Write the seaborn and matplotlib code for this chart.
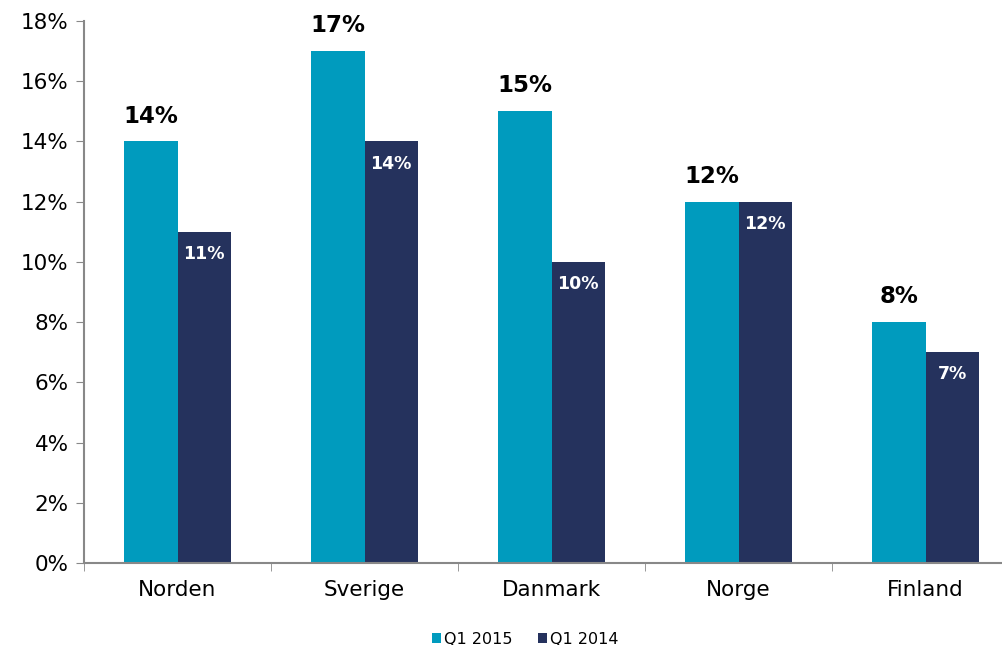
import pandas as pd
import matplotlib
matplotlib.use("Agg")
import matplotlib.pyplot as plt
from matplotlib.ticker import FuncFormatter, FixedLocator
import seaborn as sns

# dati
paesi = ["Norden", "Sverige", "Danmark", "Norge", "Finland"]
q1_2015 = [14, 17, 15, 12, 8]
q1_2014 = [11, 14, 10, 12, 7]
serie = ["Q1 2015", "Q1 2014"]
colori = ["#009BBE", "#25325D"]

df = pd.DataFrame({
    "paese": paesi * 2,
    "valore": q1_2015 + q1_2014,
    "serie": [serie[0]] * len(paesi) + [serie[1]] * len(paesi),
})

sns.set_style("white")
plt.rcParams["font.family"] = ["DejaVu Sans"]

fig = plt.figure(figsize=(10.02, 6.45), dpi=100)
ax = fig.add_axes([84 / 1002, 82 / 645, 935 / 1002, 542 / 645])

sns.barplot(data=df, x="paese", y="valore", hue="serie", palette=colori,
            width=0.567, saturation=1, linewidth=0, ax=ax, legend=True)

ax.set_xlim(-0.5, 4.5)
ax.set_ylim(0, 18)
ax.yaxis.set_major_locator(FixedLocator(range(0, 19, 2)))
ax.yaxis.set_major_formatter(FuncFormatter(lambda v, p: f"{v:.0f}%"))
ax.set_xlabel("")
ax.set_ylabel("")

# tick delle categorie ai bordi
ax.set_xticks(range(len(paesi)))
ax.set_xticklabels(paesi, fontsize=15.5, color="black")
ax.xaxis.set_minor_locator(FixedLocator([i - 0.5 for i in range(len(paesi) + 1)]))
ax.tick_params(axis="x", which="major", length=0, pad=12)
ax.tick_params(axis="x", which="minor", length=6, color="#888888", direction="out", bottom=True)
ax.tick_params(axis="y", length=6, color="#888888", direction="out", labelsize=15.5,
               labelcolor="black", pad=5, left=True)

for lato in ["top", "right"]:
    ax.spines[lato].set_visible(False)
for lato in ["left", "bottom"]:
    ax.spines[lato].set_color("#888888")
    ax.spines[lato].set_linewidth(1.5)

# etichette dei valori
cont_2015, cont_2014 = ax.containers[0], ax.containers[1]
for barra, v in zip(cont_2015, q1_2015):
    ax.annotate(f"{v}%", (barra.get_x() + barra.get_width() / 2, v),
                xytext=(0, 10), textcoords="offset points", ha="center", va="bottom",
                fontsize=16.5, fontweight="bold", color="black")
for barra, v in zip(cont_2014, q1_2014):
    ax.annotate(f"{v}%", (barra.get_x() + barra.get_width() / 2, v),
                xytext=(0, -16), textcoords="offset points", ha="center", va="center",
                fontsize=12.5, fontweight="bold", color="white")

leg = ax.legend(loc="upper center", bbox_to_anchor=(441 / 935, -0.1), ncol=2, frameon=False,
                fontsize=11.5, handlelength=0.6, handleheight=0.6, handletextpad=0.15,
                columnspacing=1.6)
for t in leg.get_texts():
    t.set_color("black")

fig.savefig("out.png", dpi=100)
